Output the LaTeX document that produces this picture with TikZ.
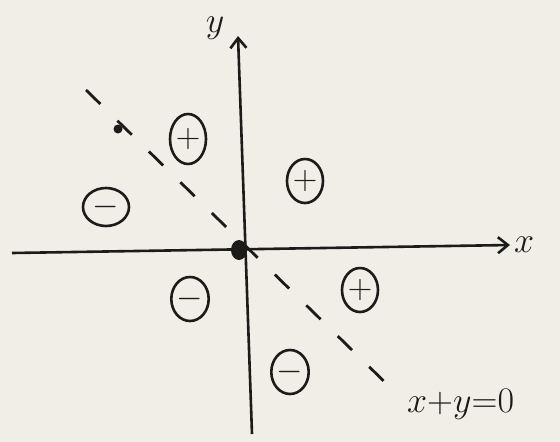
\documentclass[tikz,border=0pt]{standalone}
\usepackage{fix-cm}
\usepackage{amsmath}
\usepackage{xcolor}
\usepackage{tikz}
\usetikzlibrary{
  arrows.meta,
  positioning,
  shapes.geometric
}
\definecolor{paperbeige}{RGB}{241,238,231}
\definecolor{penink}{RGB}{28,27,26}
\tikzset{
  axisline/.style={-{Straight Barb[length=10pt,width=16pt,line width=2.6pt]},
    line width=2.6pt,draw=penink},
  signoval/.style={ellipse,draw=penink,line width=2.6pt,inner sep=0pt,
    minimum width=36pt,minimum height=44pt,font=\fontsize{34}{40}\selectfont,text=penink},
  widesign/.style={signoval,minimum width=46pt,minimum height=38pt},
  zeroline/.style={line width=2.8pt,draw=penink,dash pattern=on 20pt off 24pt},
  lab/.style={font=\fontsize{36}{42}\selectfont,text=penink,inner sep=1pt}
}
\begin{document}
\begin{tikzpicture}[x=1pt,y=-1pt]
  \fill[paperbeige] (0,0) rectangle (560,442);
  \useasboundingbox (0,0) rectangle (560,442);
  % axes
  \coordinate (xl) at (12,253);
  \coordinate (xr) at (510,245);
  \coordinate (yb) at (252,434);
  \coordinate (yt) at (238,36);
  \draw[axisline] (xl)--(xr);
  \draw[axisline] (yb)--(yt);
  \node[lab,right=3pt of xr] (xlab) {$x$};
  \node[lab] (ylab) at (215,28) {$y$};
  % the line x+y=0
  \coordinate (zl) at (86,90);
  \coordinate (zr) at (396,393);
  \draw[zeroline] (zl)--(zr);
  \node[lab,anchor=west] (zlab) at (406,404) {${x}{+}{y}{=}0$};
  \fill[penink] (118,129) circle (4.5pt);
  \fill[penink] (239,250) ellipse (8pt and 10pt);
  % signs of the regions
  \node[signoval,minimum height=50pt] (p1) at (188,139) {$+$};
  \node[signoval] (p2) at (305,181) {$+$};
  \node[signoval] (p3) at (360,290) {$+$};
  \node[widesign] (m1) at (106,207) {$-$};
  \node[signoval] (m2) at (190,299) {$-$};
  \node[signoval] (m3) at (290,372) {$-$};
\end{tikzpicture}
\end{document}
